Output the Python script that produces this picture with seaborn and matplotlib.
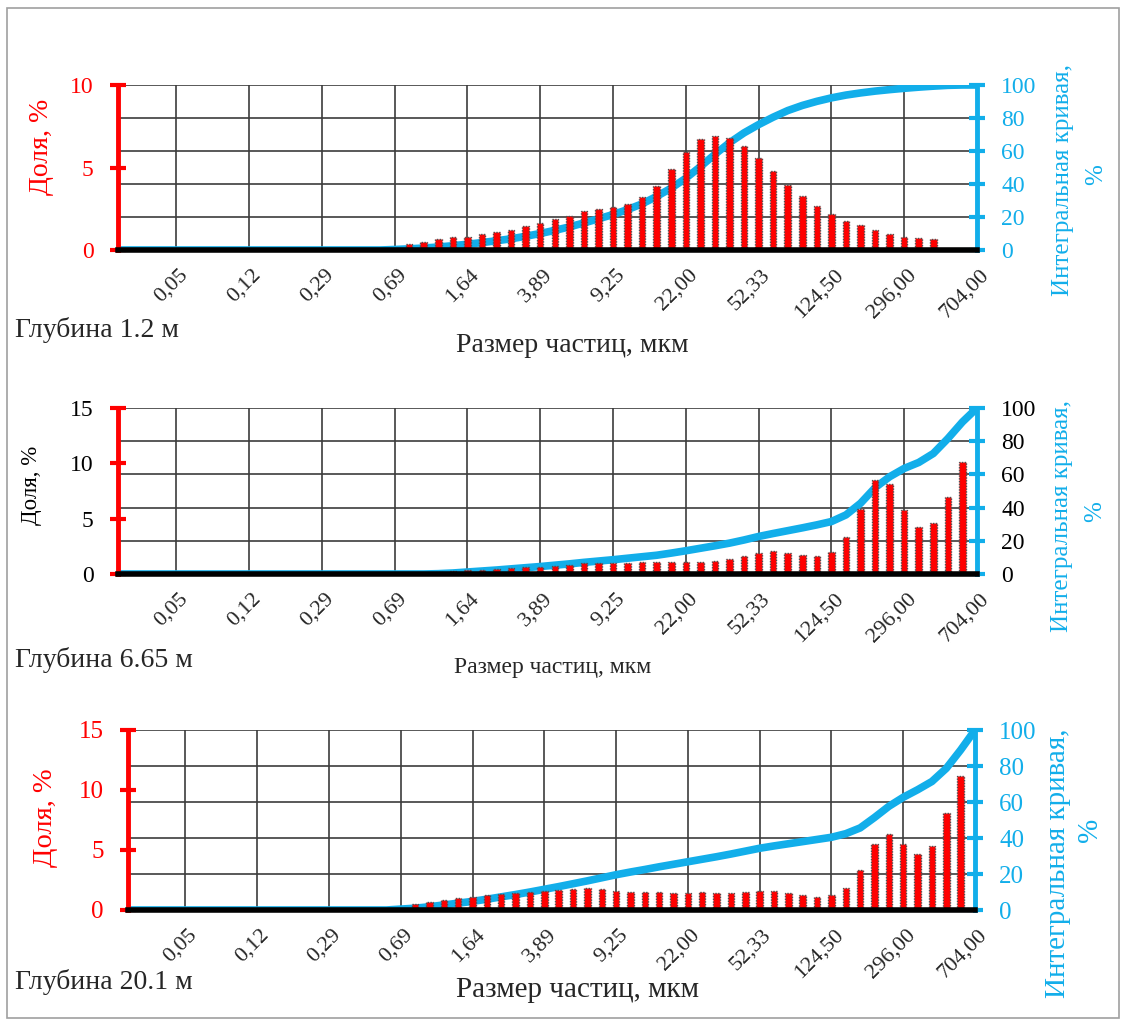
import numpy as np
import pandas as pd
import matplotlib
matplotlib.use('Agg')
import matplotlib.pyplot as plt
import seaborn as sns
from matplotlib.patches import Rectangle

W, H = 1124, 1019

# bin index 0..59, labels shown every 5th bin
bins = np.arange(60)
tick_labels = ['0,05', '0,12', '0,29', '0,69', '1,64', '3,89', '9,25',
               '22,00', '52,33', '124,50', '296,00', '704,00']
tick_pos = list(range(4, 60, 5))

# depth 1.2 m
share_12 = [0] * 20 + [0.36, 0.48, 0.65, 0.77, 0.81, 0.97, 1.09, 1.21, 1.45, 1.62,
                       1.88, 2.08, 2.36, 2.50, 2.59, 2.79, 3.19, 3.88, 4.89, 5.94,
                       6.75, 6.93, 6.81, 6.28, 5.60, 4.79, 3.94, 3.25, 2.67, 2.16,
                       1.78, 1.49, 1.21, 0.99, 0.81, 0.73, 0.67, 0, 0, 0]
cum_12 = [0] * 19 + [0.3, 0.7, 1.2, 1.8, 2.6, 3.5, 4.5, 5.6, 6.8, 8.3, 10.0,
                     11.9, 14.0, 16.4, 18.9, 21.5, 24.5, 28.0, 32.5, 37.5, 43.5,
                     50.5, 58.0, 65.0, 71.0, 76.0, 80.5, 84.5, 87.6, 90.1, 92.2,
                     93.9, 95.2, 96.3, 97.2, 98.0, 98.7, 99.3, 99.8, 100, 100]

# depth 6.65 m
share_665 = [0] * 22 + [0.18, 0.24, 0.33, 0.39, 0.45, 0.51, 0.63, 0.66, 0.69, 0.84,
                        0.96, 1.02, 1.02, 1.02, 1.05, 1.05, 1.08, 1.08, 1.08, 1.20,
                        1.39, 1.63, 1.90, 2.08, 1.93, 1.69, 1.63, 1.99, 3.31, 5.90,
                        8.52, 8.16, 5.78, 4.28, 4.58, 6.96, 10.09, 0]
cum_665 = [0] * 22 + [0.2, 0.6, 1.2, 1.8, 2.4, 3.1, 3.8, 4.5, 5.3, 6.1,
                      7.0, 7.8, 8.6, 9.5, 10.4, 11.3, 12.6, 14.0, 15.5, 17.0,
                      18.6, 20.5, 22.6, 24.4, 26.1, 27.8, 29.6, 31.6, 35.6, 42.6,
                      52.0, 58.6, 63.6, 67.2, 72.6, 81.6, 91.6, 100]

# depth 20.1 m
share_201 = [0] * 20 + [0.50, 0.65, 0.85, 1.00, 1.10, 1.22, 1.33, 1.39, 1.53, 1.61,
                        1.67, 1.75, 1.86, 1.78, 1.61, 1.53, 1.47, 1.47, 1.45, 1.44,
                        1.47, 1.39, 1.44, 1.50, 1.61, 1.58, 1.44, 1.22, 1.11, 1.22,
                        1.86, 3.33, 5.47, 6.31, 5.47, 4.67, 5.36, 8.06, 11.17, 0]
cum_201 = [0] * 19 + [0.5, 1.0, 1.8, 2.8, 3.8, 4.8, 6.0, 7.3, 8.6, 10.0, 11.5,
                      13.0, 14.6, 16.2, 17.9, 19.6, 21.1, 22.5, 24.0, 25.4, 26.8,
                      28.2, 29.6, 31.1, 32.7, 34.3, 35.6, 36.8, 38.0, 39.2, 40.4,
                      42.4, 45.6, 51.4, 57.6, 62.6, 66.8, 71.4, 78.7, 88.9, 100]

sns.set_style('white')
plt.rcParams['font.family'] = ['Liberation Serif', 'DejaVu Serif']

RED = '#FF0000'
BLUE = '#12AEEA'
GRID = '#3c3c3c'

fig = plt.figure(figsize=(W / 100, H / 100), dpi=100)


def ftext(x, y, s, **kw):
    # place text by pixel position of the reference
    fig.text(x / W, 1 - y / H, s, **kw)


def panel(box, share, cum, ymax, ystep, left_col, right_col, fs):
    x0, y0, x1, y1 = box
    ax = fig.add_axes([x0 / W, 1 - y1 / H, (x1 - x0) / W, (y1 - y0) / H])
    ax2 = ax.twinx()
    ax.set_zorder(ax2.get_zorder() + 1)
    ax.patch.set_visible(False)
    df = pd.DataFrame({'bin': bins, 'share': share, 'cum': cum})

    for v in range(20, 101, 20):
        ax2.axhline(v, color=GRID, lw=1.2, zorder=0)
    for p in tick_pos[:-1]:
        ax2.axvline(p, color=GRID, lw=1.2, zorder=0)
    sns.lineplot(data=df, x='bin', y='cum', ax=ax2, color=BLUE, linewidth=5.5, zorder=2)
    sns.barplot(data=df, x='bin', y='share', ax=ax, native_scale=True, width=0.45,
                color=RED, saturation=1, edgecolor='#505050', linewidth=1.0,
                linestyle=(0, (1, 1)), errorbar=None)

    ax.set_xlim(0, 59)
    ax.set_ylim(0, ymax)
    ax.set_yticks(np.arange(0, ymax + 1, ystep))
    ax2.set_ylim(0, 100)
    ax2.set_yticks(range(0, 101, 20))
    ax.set_xticks(tick_pos)
    ax.set_xticklabels([])
    # rotated size labels, Excel style: end of the text sits just right of the tick
    for p, lab in zip(tick_pos, tick_labels):
        ax.annotate(lab, xy=(p, 0), xycoords=('data', 'axes fraction'),
                    xytext=(6.5, -16), textcoords='offset points',
                    rotation=45, ha='right', va='center', rotation_mode='anchor',
                    fontsize=fs['xtick'], annotation_clip=False)
    ax.set_xlabel('')
    ax.set_ylabel('')
    ax2.set_xlabel('')
    ax2.set_ylabel('')

    for s in ['top', 'right']:
        ax.spines[s].set_visible(False)
    for s in ['top', 'left', 'bottom']:
        ax2.spines[s].set_visible(False)
    ax.spines['left'].set_color(RED)
    ax.spines['left'].set_linewidth(3.5)
    ax.spines['bottom'].set_color('black')
    ax.spines['bottom'].set_linewidth(4)
    ax2.spines['right'].set_color(BLUE)
    ax2.spines['right'].set_linewidth(3.5)

    ax.tick_params(axis='y', direction='inout', length=11, width=3, color=RED,
                   labelcolor=left_col, labelsize=fs['ytick'], pad=12)
    ax.tick_params(axis='x', direction='inout', length=12, width=4, color='black')
    ax2.tick_params(axis='y', direction='inout', length=11, width=3, color=BLUE,
                    labelcolor=right_col, labelsize=fs['ytick'], pad=12)
    return ax


# Глубина 1.2 м
panel((118, 85, 977, 250), share_12, cum_12, 10, 5, RED, BLUE,
      {'ytick': 17, 'xtick': 16})
ftext(42, 147, 'Доля, %', color=RED, fontsize=20, rotation=90, ha='center', va='center')
ftext(1063, 180, 'Интегральная кривая,', color=BLUE, fontsize=18, rotation=90,
      ha='center', va='center')
ftext(1096, 175, '%', color=BLUE, fontsize=18, rotation=90, ha='center', va='center')
ftext(572, 345, 'Размер частиц, мкм', fontsize=20, ha='center', va='center')
ftext(15, 330, 'Глубина 1.2 м', fontsize=20, ha='left', va='center')

# Глубина 6.65 м
panel((118, 408, 977, 574), share_665, cum_665, 15, 5, 'black', 'black',
      {'ytick': 17, 'xtick': 16})
ftext(32, 485, 'Доля, %', color='black', fontsize=16.5, rotation=90, ha='center', va='center')
ftext(1062, 516, 'Интегральная кривая,', color=BLUE, fontsize=18, rotation=90,
      ha='center', va='center')
ftext(1095, 512, '%', color=BLUE, fontsize=18, rotation=90, ha='center', va='center')
ftext(553, 668, 'Размер частиц, мкм', fontsize=17, ha='center', va='center')
ftext(15, 660, 'Глубина 6.65 м', fontsize=20, ha='left', va='center')

# Глубина 20.1 м
panel((128, 730, 975, 910), share_201, cum_201, 15, 5, RED, BLUE,
      {'ytick': 18, 'xtick': 16})
ftext(45, 818, 'Доля, %', color=RED, fontsize=20.5, rotation=90, ha='center', va='center')
ftext(1058, 863, 'Интегральная кривая,', color=BLUE, fontsize=21, rotation=90,
      ha='center', va='center')
ftext(1090, 830, '%', color=BLUE, fontsize=21, rotation=90, ha='center', va='center')
ftext(577, 990, 'Размер частиц, мкм', fontsize=21, ha='center', va='center')
ftext(15, 982, 'Глубина 20.1 м', fontsize=20, ha='left', va='center')

# outer chart frame
fig.patches.append(Rectangle((7 / W, 0.001), (1119 - 7) / W, 1 - 8 / H - 0.001,
                             transform=fig.transFigure, fill=False,
                             edgecolor='#a0a0a0', lw=1.2))

fig.savefig('out.png', dpi=100)
